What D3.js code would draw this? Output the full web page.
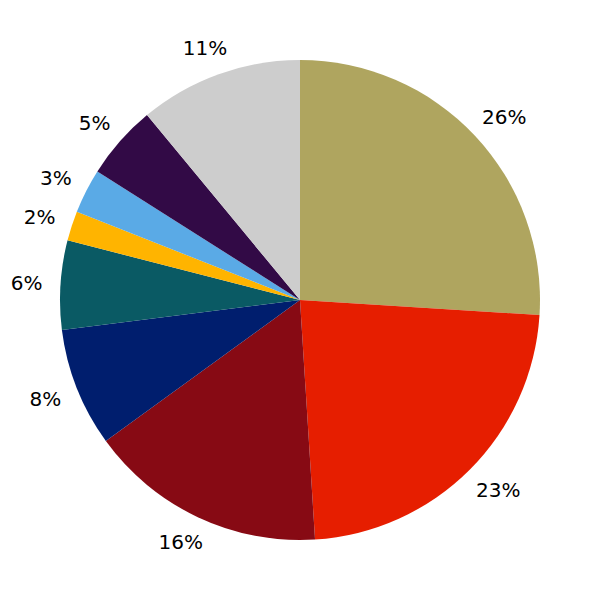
<!DOCTYPE html>
<html>
<head>
<meta charset="utf-8">
<script src="https://cdn.jsdelivr.net/npm/d3@7"></script>
<style>
  html, body { margin: 0; padding: 0; background: #fff; }
  svg { display: block; }
</style>
</head>
<body>
<svg id="chart" width="600" height="600"></svg>
<script>
const categories = ["A", "B", "C", "D", "E", "F", "G", "H", "I"];
const values = [26, 23, 16, 8, 6, 2, 3, 5, 11];
const labels = ["26%", "23%", "16%", "8%", "6%", "2%", "3%", "5%", "11%"];
const colors = ["#AFA55F", "#E61E00", "#870A14", "#001E6E", "#0A5A64", "#FFB400", "#5AAAE6", "#320A46", "#CDCDCD"];

const svg = d3.select("#chart");
const cx = 300, cy = 300, R = 240, anchorR = 258, boxH = 20;

const data = categories.map((c, i) => ({ cat: c, value: values[i], label: labels[i], color: colors[i] }));

const pie = d3.pie().value(d => d.value).sort(null);
const arcs = pie(data);
const arc = d3.arc().innerRadius(0).outerRadius(R);

const g = svg.append("g").attr("transform", `translate(${cx},${cy})`);

g.selectAll("path.slice")
  .data(arcs)
  .enter()
  .append("path")
  .attr("class", "slice")
  .attr("d", arc)
  .attr("fill", d => d.data.color);

g.selectAll("text.lbl")
  .data(arcs)
  .enter()
  .append("text")
  .attr("class", "lbl")
  .attr("text-anchor", "middle")
  .attr("dominant-baseline", "central")
  .attr("font-family", "DejaVu Sans, sans-serif")
  .attr("font-size", 20)
  .attr("fill", "#000")
  .text(d => d.data.label)
  .attr("transform", function(d) {
    const a = (d.startAngle + d.endAngle) / 2;
    const w = this.getComputedTextLength();
    const s = Math.sin(a), c = Math.cos(a);
    const x = anchorR * s + (w / 2) * s;
    const y = -anchorR * c - (boxH / 2) * c;
    return `translate(${x},${y})`;
  });
</script>
</body>
</html>
